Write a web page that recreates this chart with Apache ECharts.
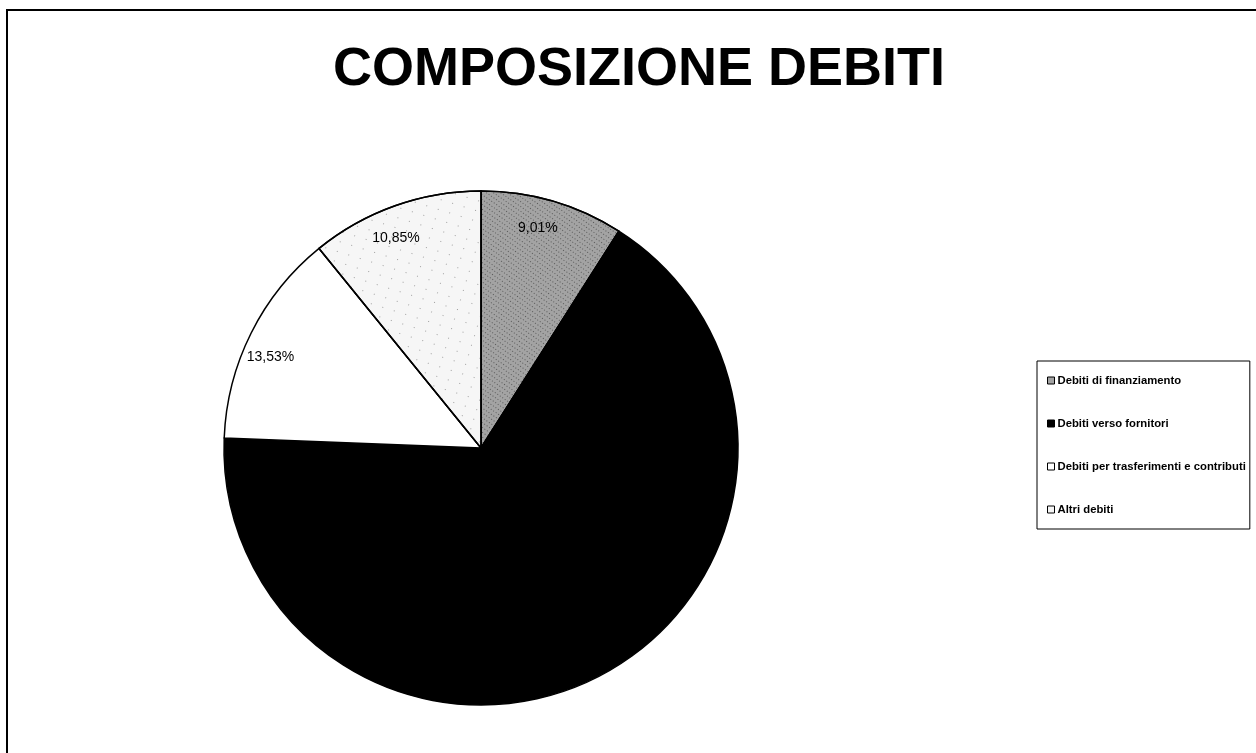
<!DOCTYPE html>
<html>
<head>
<meta charset="utf-8">
<title>Composizione debiti</title>
<script src="https://cdn.jsdelivr.net/npm/echarts@6/dist/echarts.min.js"></script>
<style>
  html, body { margin: 0; padding: 0; background: #ffffff; }
  #chart { width: 1256px; height: 753px; }
</style>
</head>
<body>
<div id="chart"></div>
<script>
// dati
const categories = [
  "Debiti di finanziamento",
  "Debiti verso fornitori",
  "Debiti per trasferimenti e contributi",
  "Altri debiti",
];
const percentuali = [9.01, 66.61, 13.53, 10.85];

const colori = ["#a3a3a3", "#000000", "#ffffff", "#f6f6f6"];
const decals = [
  { symbol: "rect", symbolSize: 1, color: "rgba(0,0,0,0.45)", dashArrayX: [1, 2], dashArrayY: [1, 3], rotation: 0.6 },
  null,
  null,
  { symbol: "rect", symbolSize: 1, color: "rgba(0,0,0,0.35)", dashArrayX: [1, 11], dashArrayY: [1, 9], rotation: 0.3 },
];

function fmt(v) {
  return v.toFixed(2).replace(".", ",") + "%";
}

function setChart() {
  let myChart = echarts.init(document.getElementById("chart"));

  let fette = categories.map((name, i) => {
    let style = { color: colori[i] };
    if (decals[i]) style.decal = decals[i];
    return { name: name, value: percentuali[i], itemStyle: style };
  });

  // anello trasparente usato solo per posizionare le etichette verso il bordo
  let etichette = categories.map((name, i) => ({
    name: name,
    value: percentuali[i],
  }));

  let option = {
    animation: false,
    backgroundColor: "#ffffff",
    title: {
      text: "COMPOSIZIONE DEBITI",
      left: 634,
      textAlign: "center",
      top: 38,
      textStyle: {
        color: "#000000",
        fontSize: 54,
        fontWeight: "bold",
        fontFamily: "Liberation Sans, Arial, sans-serif",
      },
    },
    legend: {
      orient: "vertical",
      left: 1037,
      top: 361,
      data: categories,
      icon: "rect",
      itemWidth: 7,
      itemHeight: 7,
      itemGap: 32,
      padding: [14, 4, 14, 10],
      borderColor: "#000000",
      borderWidth: 1,
      backgroundColor: "#ffffff",
      selectedMode: false,
      itemStyle: { borderColor: "#000000", borderWidth: 1, decal: "none" },
      textStyle: {
        color: "#000000",
        fontSize: 11.3,
        fontWeight: "bold",
        fontFamily: "Liberation Sans, Arial, sans-serif",
        padding: [0, 0, 0, -2],
      },
    },
    graphic: [
      {
        type: "rect",
        shape: { x: 7, y: 10, width: 1300, height: 800 },
        style: { fill: "none", stroke: "#000000", lineWidth: 2 },
        z: 100,
      },
    ],
    series: [
      {
        name: "Composizione",
        type: "pie",
        center: [481, 448],
        radius: 257,
        startAngle: 90,
        clockwise: true,
        silent: true,
        label: { show: false },
        labelLine: { show: false },
        itemStyle: { borderColor: "#000000", borderWidth: 1.5 },
        emphasis: { disabled: true },
        data: fette,
      },
      {
        name: "Etichette",
        type: "pie",
        center: [481, 448],
        radius: [200, 257],
        startAngle: 92,
        clockwise: true,
        silent: true,
        itemStyle: { color: "rgba(0,0,0,0)" },
        label: {
          show: true,
          position: "inside",
          formatter: (p) => fmt(p.value),
          color: "#000000",
          fontSize: 14,
          fontFamily: "Liberation Sans, Arial, sans-serif",
        },
        labelLayout: { dy: 5 },
        labelLine: { show: false },
        emphasis: { disabled: true },
        data: etichette,
      },
    ],
  };

  myChart.clear();
  myChart.setOption(option);
}

setChart();
</script>
</body>
</html>
